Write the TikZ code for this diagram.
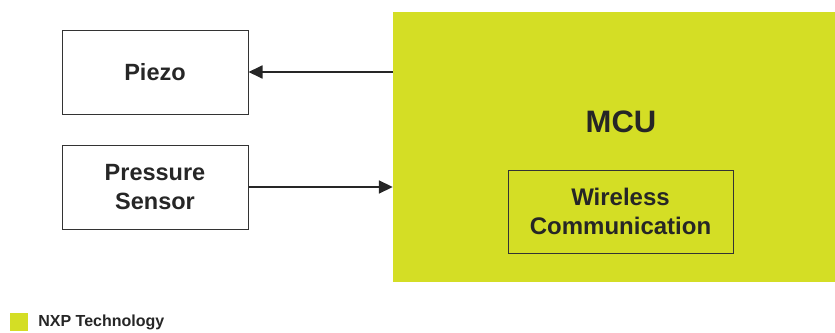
\documentclass[tikz,border=0pt]{standalone}
\usepackage{fontspec}
\setmainfont{Liberation Sans}
\usetikzlibrary{arrows.meta}
\definecolor{nxpgreen}{HTML}{D4DE25}
\tikzset{
  block/.style={draw=black!80,line width=1pt,minimum width=186pt,minimum height=84pt,font=\bfseries\fontsize{23.5}{29}\selectfont,align=center,text=black!85},
  link/.style={-{Triangle[length=14pt,width=13pt]},line width=1.8pt,black!85}
}
\begin{document}
\begin{tikzpicture}[x=1pt,y=-1pt]
        \useasboundingbox(0,0) rectangle (835,332);
        \node[fill=nxpgreen,minimum width=442pt,minimum height=270pt,inner sep=0pt] (mcu) at (614,147) {};
        \node[font=\bfseries\fontsize{31}{34}\selectfont,text=black!85] (mculabel) at (621,122) {MCU};
        \node[block,minimum width=225pt,minimum height=83pt,font=\bfseries\fontsize{24}{29}\selectfont] (wireless) at (620.5,211.5) {Wireless\\Communication};
        \node[block] (piezo) at (155,72) {Piezo};
        \node[block] (sensor) at (155,187) {Pressure\\Sensor};
        \draw[link] (mcu.west|-piezo.east) -- (piezo.east);
        \draw[link] (sensor.east) -- (mcu.west|-sensor.east);
        % legend
        \node[fill=nxpgreen,minimum size=18pt,inner sep=0pt] (key) at (19,322) {};
        \node[right=10pt,font=\bfseries\fontsize{16}{18}\selectfont,text=black!85,inner sep=0pt] (keytext) at (key.east) {NXP Technology};
    \end{tikzpicture}
\end{document}
